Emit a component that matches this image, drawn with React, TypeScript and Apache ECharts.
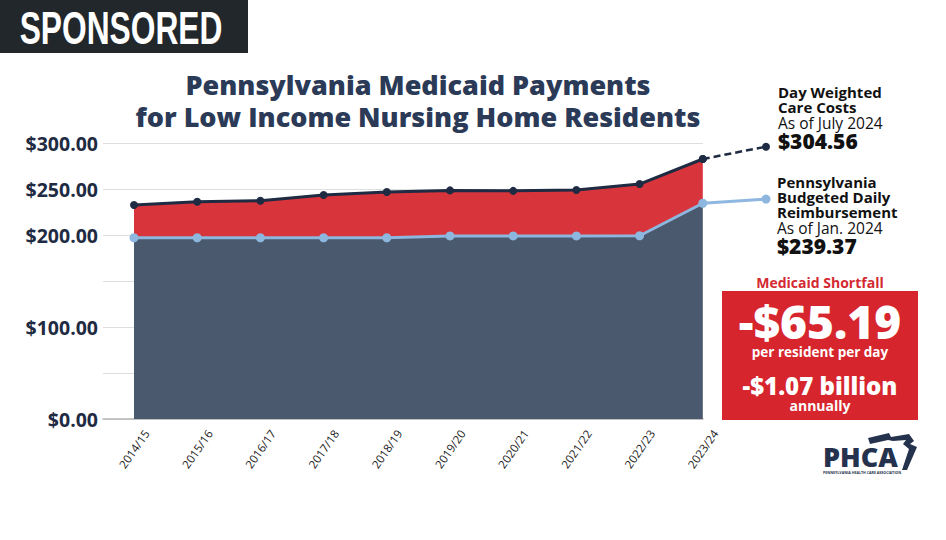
import React, { useEffect, useRef } from "react";
import * as echarts from "echarts";

const categories = ["2014/15", "2015/16", "2016/17", "2017/18", "2018/19", "2019/20", "2020/21", "2021/22", "2022/23", "2023/24", ""];
const careCosts = [232.6, 236.2, 237.3, 243.5, 246.7, 248.5, 248.0, 249.0, 255.4, 282.6];
const careProjected = 296;
const reimbursement = [197.0, 197.0, 197.0, 197.0, 197.0, 199.0, 199.0, 199.0, 199.2, 234.5];
const reimbProjected = 239.1;
const yLabelValues = [0, 100, 200, 250, 300];

const FONT = '"Open Sans", "Noto Sans", sans-serif';
const NAVY = "#1e2b42";
const TITLE = "#2b3a57";

type Line = { t: string; size: number; lh: number; w: any };

export default function App() {
  const ref = useRef<HTMLDivElement>(null);
  useEffect(() => {
    document.body.style.margin = "0";
    const chart = echarts.init(ref.current!, undefined, { renderer: "svg" });
    const n = careCosts.length;
    const gap = careCosts.map((c, i) => +(c - reimbursement[i]).toFixed(2));
    const dash: (number | null)[] = categories.map(() => null);
    dash[n - 1] = careCosts[n - 1];
    dash[n] = careProjected;
    const blue = [...reimbursement, reimbProjected];

    const block = (x: number, top: number, lines: Line[], color: string, align = "left") => {
      const rich: any = {};
      const parts = lines.map((l, i) => {
        rich["s" + i] = { fontSize: l.size, lineHeight: l.lh, fontWeight: l.w, fill: color, color, fontFamily: FONT, align };
        return "{s" + i + "|" + l.t + "}";
      });
      return { type: "text", x, y: top, style: { text: parts.join("\n"), rich, fill: color, fontFamily: FONT, align, verticalAlign: "top" } };
    };
    const txt = (x: number, y: number, text: string, size: number, weight: any, color: string, align = "left") => ({
      type: "text", x, y, style: { text, fontSize: size, lineHeight: size, fontWeight: weight, fill: color, fontFamily: FONT, align, verticalAlign: "middle" },
    });

    chart.setOption({
      animation: false,
      grid: [
        { left: 103, right: 243, top: 143, bottom: 121 },
        { left: 134, right: 180, top: 143, bottom: 121 },
      ],
      xAxis: [
        { gridIndex: 0, type: "value", min: 0, max: 1, axisLine: { show: true, lineStyle: { color: "#b5b5b5", width: 1.5 } }, axisTick: { show: false }, axisLabel: { show: false }, splitLine: { show: false } },
        { gridIndex: 1, type: "category", data: categories, boundaryGap: false, axisLine: { show: false }, axisTick: { show: false }, splitLine: { show: false },
          axisLabel: { interval: 0, rotate: 55, fontSize: 11.5, color: "#222", fontFamily: FONT, margin: 30, align: "center", verticalAlign: "middle" } },
      ],
      yAxis: [
        { gridIndex: 0, type: "value", min: 0, max: 300, interval: 50, axisLine: { show: false }, axisTick: { show: false },
          splitLine: { lineStyle: { color: "#dedede", width: 1 } },
          axisLabel: { margin: 5, fontSize: 19.5, fontWeight: "bold", color: NAVY, fontFamily: FONT,
            formatter: (v: number) => (yLabelValues.includes(v) ? "$" + v.toFixed(2) : "") } },
        { gridIndex: 1, type: "value", min: 0, max: 300, show: false },
      ],
      series: [
        { type: "line", xAxisIndex: 1, yAxisIndex: 1, stack: "a", data: reimbursement, symbol: "none", lineStyle: { width: 0 }, areaStyle: { color: "#4a596d", opacity: 1 }, z: 1 },
        { type: "line", xAxisIndex: 1, yAxisIndex: 1, stack: "a", data: gap, symbol: "none", lineStyle: { width: 0 }, areaStyle: { color: "#d7343b", opacity: 1 }, z: 1 },
        { type: "line", xAxisIndex: 1, yAxisIndex: 1, data: blue, symbol: "circle", symbolSize: 9, itemStyle: { color: "#8db7df" }, lineStyle: { color: "#8db7df", width: 3 }, z: 3 },
        { type: "line", xAxisIndex: 1, yAxisIndex: 1, data: dash, symbol: "circle", symbolSize: 8, itemStyle: { color: NAVY }, lineStyle: { color: NAVY, width: 2.5, type: [7, 4] }, z: 4 },
        { type: "line", xAxisIndex: 1, yAxisIndex: 1, data: careCosts, symbol: "circle", symbolSize: 8, itemStyle: { color: NAVY }, lineStyle: { color: NAVY, width: 3 }, z: 5 },
      ],
      graphic: [
        { type: "rect", shape: { x: 0, y: 0, width: 248, height: 53 }, style: { fill: "#22272b" } },
        { type: "text", x: 121, y: 28, scaleX: 0.69, style: { text: "SPONSORED", fontSize: 46, lineHeight: 46, fontWeight: "bold", fill: "#fff", fontFamily: '"Liberation Sans", Arial, sans-serif', align: "center", verticalAlign: "middle" } },
        block(418, 68, [
          { t: "Pennsylvania Medicaid Payments", size: 27, lh: 32, w: 800 },
          { t: "for Low Income Nursing Home Residents", size: 27, lh: 32, w: 800 },
        ], TITLE, "center"),
        block(778, 84.5, [
          { t: "Day Weighted", size: 15, lh: 15, w: "bold" },
          { t: "Care Costs", size: 15, lh: 15, w: "bold" },
          { t: "As of July 2024", size: 15.5, lh: 16, w: "normal" },
          { t: "$304.56", size: 21, lh: 20, w: 800 },
        ], "#111"),
        block(777, 174.5, [
          { t: "Pennsylvania", size: 15, lh: 15, w: "bold" },
          { t: "Budgeted Daily", size: 15, lh: 15, w: "bold" },
          { t: "Reimbursement", size: 15, lh: 15, w: "bold" },
          { t: "As of Jan. 2024", size: 15.5, lh: 16, w: "normal" },
          { t: "$239.37", size: 21, lh: 20, w: 800 },
        ], "#111"),
        txt(820, 282, "Medicaid Shortfall", 14, "bold", "#d42a31", "center"),
        { type: "rect", shape: { x: 722, y: 291, width: 196, height: 129 }, style: { fill: "#d6252d" } },
        block(820, 298, [
          { t: "-$65.19", size: 46, lh: 46, w: 800 },
          { t: "per resident per day", size: 13.5, lh: 16, w: "bold" },
        ], "#fff", "center"),
        block(820, 372, [
          { t: "-$1.07 billion", size: 24, lh: 26, w: 800 },
          { t: "annually", size: 14, lh: 14, w: "bold" },
        ], "#fff", "center"),
        block(823, 442.5, [
          { t: "PHCA", size: 27, lh: 27, w: 800 },
          { t: "PENNSYLVANIA HEALTH CARE ASSOCIATION", size: 3.6, lh: 5, w: "bold" },
        ], "#24324d"),
        { type: "polygon", shape: { points: [[868, 438], [889, 433], [891, 437], [909, 434], [914, 441], [910, 444], [917, 447], [907, 470], [902, 470], [909, 449], [903, 444], [906, 440], [893, 441], [888, 440], [870, 444]] }, style: { fill: "#24324d" } },
      ],
    });
    return () => chart.dispose();
  }, []);
  return <div ref={ref} style={{ width: 946, height: 540, background: "#fff" }} />;
}
